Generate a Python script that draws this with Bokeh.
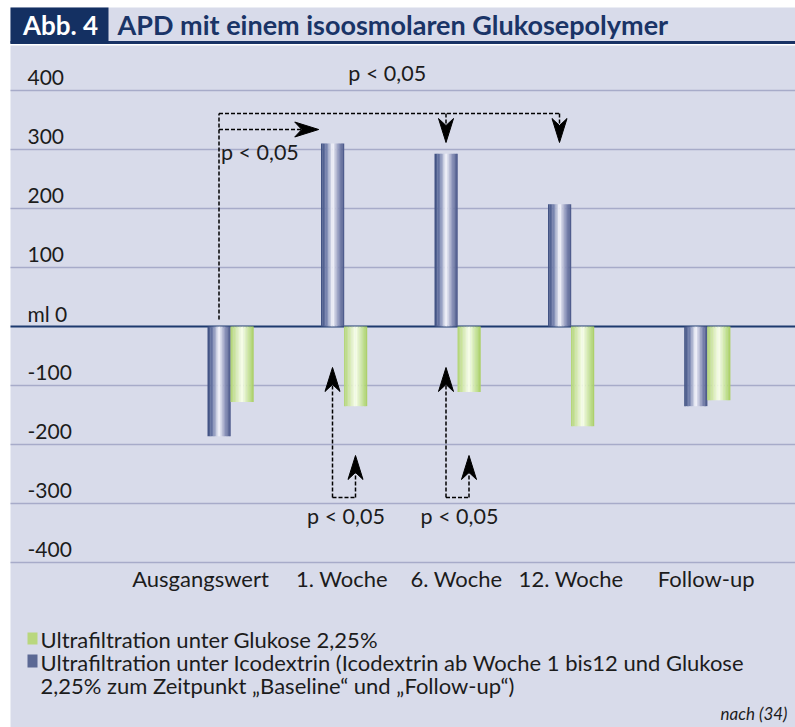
from bokeh.plotting import figure
from bokeh.models import Range1d, ColumnDataSource
from bokeh.core.properties import value
from bokeh.embed import file_html
from bokeh.resources import INLINE

# ---------------- data ----------------
categories = ["Ausgangswert", "1. Woche", "6. Woche", "12. Woche", "Follow-up"]
icodextrin = [-186, 310, 293, 207, -135]
glukose = [-128, -135, -111, -169, -125]
y_ticks = [400, 300, 200, 100, 0, -100, -200, -300, -400]
y_tick_labels = ["400", "300", "200", "100", "ml 0", "-100", "-200", "-300", "-400"]
title_tag = "Abb. 4"
title_text = "APD mit einem isoosmolaren Glukosepolymer"
legend_labels = ["Ultrafiltration unter Glukose 2,25%",
                 "Ultrafiltration unter Icodextrin (Icodextrin ab Woche 1 bis12 und Glukose",
                 "2,25% zum Zeitpunkt \u201eBaseline\u201c und \u201eFollow-up\u201c)"]
source_note = "nach (34)"
p_label = "p < 0,05"

# ---------------- layout ----------------
W, H = 795, 727
OFF = 0
PX_PER_CAT = 113.5
PX_PER_UNIT = 0.59
FIRST_CAT_PAGE_X = 230
ZERO_PAGE_Y = 326
xpos = [0, 1, 2, 3, 4.2]
bw = 23 / PX_PER_CAT

x_start = -(FIRST_CAT_PAGE_X - OFF) / PX_PER_CAT
x_end = x_start + W / PX_PER_CAT
y_end = (ZERO_PAGE_Y - OFF) / PX_PER_UNIT
y_start = y_end - H / PX_PER_UNIT


def X(px):
    return x_start + (px - OFF) / PX_PER_CAT


def Y(py):
    return y_end - (py - OFF) / PX_PER_UNIT


PANEL = "#d8dbea"
GRID = "#a7abc9"
NAVY = "#183265"
TXT = "#1c1c1c"
FONT = value("Lato")

p = figure(width=W, height=H, x_range=Range1d(x_start, x_end), y_range=Range1d(y_start, y_end),
           output_backend="svg", toolbar_location=None, x_axis_type=None, y_axis_type=None,
           min_border=0, outline_line_color=None, background_fill_color="white",
           border_fill_color="white")

# panel + title strip
p.quad(left=[X(10), X(10)], right=[X(800), X(800)], top=[Y(45), Y(7)], bottom=[Y(740), Y(41)],
       fill_color=PANEL, line_color=None)
p.quad(left=[X(10)], right=[X(800)], top=[Y(40.5)], bottom=[Y(43.5)], fill_color=NAVY, line_color=None)
p.quad(left=[X(10)], right=[X(108)], top=[Y(7)], bottom=[Y(43)], fill_color="#143062", line_color=None)
p.text(x=[X(60)], y=[Y(33)], text=[title_tag], y_offset=-9, text_color="white", text_font=FONT,
       text_font_style="bold", text_font_size="26px", text_align="center", text_baseline="alphabetic")
p.text(x=[X(117)], y=[Y(33)], text=[title_text], y_offset=-9, text_color="#1a3467", text_font=FONT,
       text_font_style="bold", text_font_size="27px", text_align="left", text_baseline="alphabetic")

# grid lines
gt = [t for t in y_ticks if t != 0]
p.segment(x0=[X(10)] * len(gt), x1=[X(800)] * len(gt), y0=gt, y1=gt, line_color=GRID, line_width=1.5)
p.segment(x0=[X(10)], x1=[X(800)], y0=[0], y1=[0], line_color="#1d3a6e", line_width=2)

# tick labels
p.text(x=[X(27)] * len(y_ticks), y=y_ticks, text=y_tick_labels, y_offset=-13, text_color=TXT,
       text_font=FONT, text_font_size="21px", text_align="left", text_baseline="alphabetic")


# gradient bars
def interp(stops, t):
    for (t0, c0), (t1, c1) in zip(stops[:-1], stops[1:]):
        if t0 <= t <= t1:
            f = (t - t0) / (t1 - t0) if t1 > t0 else 0
            c = [round(a + (b - a) * f) for a, b in zip(c0, c1)]
            return "#%02x%02x%02x" % tuple(c)
    return "#%02x%02x%02x" % stops[-1][1]


BLUE_STOPS = [(0, (58, 76, 126)), (0.25, (120, 132, 175)), (0.5, (250, 250, 255)),
              (0.78, (135, 143, 182)), (1.0, (70, 84, 134))]
GREEN_STOPS = [(0, (176, 211, 115)), (0.5, (250, 255, 238)), (0.85, (190, 222, 140)), (1.0, (168, 206, 98))]
NSTRIP = 16


def strips(lefts, vals, stops):
    d = dict(left=[], right=[], top=[], bottom=[], color=[])
    for l, v in zip(lefts, vals):
        for k in range(NSTRIP):
            d["left"].append(l + bw * k / NSTRIP)
            d["right"].append(l + bw * (k + 1) / NSTRIP + bw * 0.01)
            d["top"].append(max(0, v))
            d["bottom"].append(min(0, v))
            d["color"].append(interp(stops, (k + 0.5) / NSTRIP))
    return ColumnDataSource(d)


p.quad(left="left", right="right", top="top", bottom="bottom", fill_color="color", line_color=None,
       source=strips([x - bw for x in xpos], icodextrin, BLUE_STOPS))
p.quad(left="left", right="right", top="top", bottom="bottom", fill_color="color", line_color=None,
       source=strips(list(xpos), glukose, GREEN_STOPS))

# category labels
p.text(x=xpos, y=[Y(587)] * len(xpos), text=categories, x_offset=[-30, -2, -1, 0, -1], y_offset=-9,
       text_color=TXT, text_font=FONT, text_font_size="22px", text_align="center",
       text_baseline="alphabetic")

# significance brackets (dashed lines + filled notched arrow heads)
DASH = "4 2"
HEAD_LEN, HEAD_HALF, HEAD_NOTCH = 24, 7.5, 17
bc = [x - bw / 2 for x in xpos]
gc = [x + bw / 2 for x in xpos]
y_top, y_mid, y_low = Y(113), Y(129), Y(319)

line_xs = [[bc[0], bc[0]], [bc[0], bc[3]]]
line_ys = [[y_low, y_top], [y_top, y_top]]
head_xs, head_ys = [], []


def arrow(x0, y0, x1, y1):
    dxp = (x1 - x0) * PX_PER_CAT
    dyp = (y1 - y0) * PX_PER_UNIT
    L = (dxp ** 2 + dyp ** 2) ** 0.5
    ux, uy = dxp / L, dyp / L
    nx, ny = -uy, ux

    def pt(back, side):
        return (x1 + (-ux * back + nx * side) / PX_PER_CAT,
                y1 + (-uy * back + ny * side) / PX_PER_UNIT)

    a = pt(HEAD_LEN, HEAD_HALF)
    b = pt(HEAD_NOTCH, 0)
    c = pt(HEAD_LEN, -HEAD_HALF)
    head_xs.append([x1, a[0], b[0], c[0]])
    head_ys.append([y1, a[1], b[1], c[1]])
    line_xs.append([x0, b[0]])
    line_ys.append([y0, b[1]])


arrow(bc[2], y_top, bc[2], Y(142))
arrow(bc[3], y_top, bc[3], Y(142))
arrow(bc[0], y_mid, xpos[1] - bw - 0.02, y_mid)

y_bot = Y(497)
for i in (1, 2):
    line_xs.append([bc[i], gc[i]])
    line_ys.append([y_bot, y_bot])
    arrow(bc[i], y_bot, bc[i], Y(367))
    arrow(gc[i], y_bot, gc[i], Y(455))

p.multi_line(xs=line_xs, ys=line_ys, line_color="black", line_width=1.5, line_dash=DASH)
p.patches(xs=head_xs, ys=head_ys, fill_color="black", line_color="black", line_width=1)

p.text(x=[(bc[0] + bc[3]) / 2, bc[0], xpos[1], xpos[2]],
       y=[Y(80), Y(159), Y(523), Y(523)], text=[p_label] * 4, x_offset=[-2, 2, 2, 2], y_offset=-8,
       text_align=["center", "left", "center", "center"], text_color=TXT, text_font=FONT,
       text_font_size="21.5px", text_baseline="alphabetic")

# legend
p.quad(left=[X(27), X(27)], right=[X(37), X(37)], top=[Y(632), Y(654)], bottom=[Y(644), Y(667)],
       fill_color=["#b9d77e", "#5b6894"], line_color=None)
p.text(x=[X(40)] * 3, y=[Y(645), Y(668), Y(691)], text=legend_labels, y_offset=-6, text_color=TXT,
       text_font=FONT, text_font_size="22px", text_align="left", text_baseline="alphabetic")
p.text(x=[X(787)], y=[Y(716)], text=[source_note], y_offset=-3, text_color=TXT, text_font=FONT,
       text_font_style="italic", text_font_size="17px", text_align="right", text_baseline="alphabetic")

open("out.html", "w").write(file_html(p, INLINE))
